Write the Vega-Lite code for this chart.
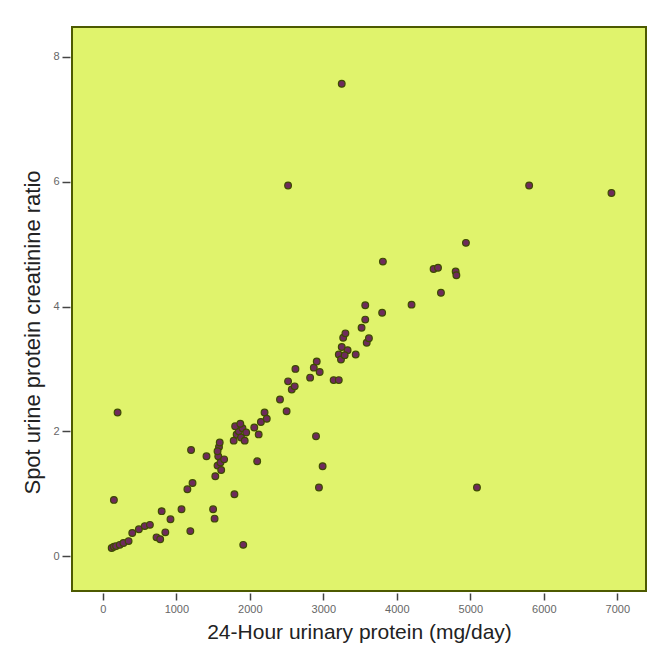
{
  "$schema": "https://vega.github.io/schema/vega-lite/v6.json",
  "autosize": "none",
  "width": 574,
  "height": 564,
  "padding": {"left": 72, "top": 27, "right": 6, "bottom": 66},
  "background": "white",
  "config": {
    "view": {"fill": "#e0f36c", "stroke": "#4d5a00", "strokeWidth": 2},
    "font": "Liberation Sans"
  },
  "data": {
    "values": [
      {"p": 120, "r": 0.13}, {"p": 150, "r": 0.15}, {"p": 180, "r": 0.16}, {"p": 230, "r": 0.18},
      {"p": 280, "r": 0.21}, {"p": 350, "r": 0.24}, {"p": 150, "r": 0.9}, {"p": 200, "r": 2.3},
      {"p": 400, "r": 0.37}, {"p": 490, "r": 0.43}, {"p": 570, "r": 0.48}, {"p": 640, "r": 0.5},
      {"p": 730, "r": 0.3}, {"p": 780, "r": 0.27}, {"p": 850, "r": 0.38}, {"p": 800, "r": 0.72},
      {"p": 920, "r": 0.59}, {"p": 1070, "r": 0.75}, {"p": 1190, "r": 0.4}, {"p": 1150, "r": 1.07},
      {"p": 1220, "r": 1.17}, {"p": 1200, "r": 1.7}, {"p": 1410, "r": 1.6}, {"p": 1500, "r": 0.75},
      {"p": 1520, "r": 0.6}, {"p": 1530, "r": 1.28}, {"p": 1560, "r": 1.45}, {"p": 1570, "r": 1.6},
      {"p": 1580, "r": 1.75}, {"p": 1600, "r": 1.5}, {"p": 1610, "r": 1.38}, {"p": 1650, "r": 1.55},
      {"p": 1560, "r": 1.68}, {"p": 1590, "r": 1.82},
      {"p": 1790, "r": 0.99}, {"p": 1910, "r": 0.18}, {"p": 1780, "r": 1.85}, {"p": 1820, "r": 1.95},
      {"p": 1850, "r": 2.0}, {"p": 1880, "r": 1.9}, {"p": 1900, "r": 2.05}, {"p": 1950, "r": 1.98},
      {"p": 1800, "r": 2.08}, {"p": 1870, "r": 2.12}, {"p": 1930, "r": 1.85},
      {"p": 2060, "r": 2.06}, {"p": 2100, "r": 1.52}, {"p": 2120, "r": 1.95}, {"p": 2150, "r": 2.15},
      {"p": 2200, "r": 2.3}, {"p": 2230, "r": 2.2}, {"p": 2410, "r": 2.51}, {"p": 2500, "r": 2.32},
      {"p": 2520, "r": 2.8}, {"p": 2570, "r": 2.67}, {"p": 2610, "r": 2.72}, {"p": 2620, "r": 3.0},
      {"p": 2820, "r": 2.86}, {"p": 2870, "r": 3.02}, {"p": 2910, "r": 3.12}, {"p": 2900, "r": 1.92},
      {"p": 2990, "r": 1.44}, {"p": 2940, "r": 1.1}, {"p": 3140, "r": 2.82}, {"p": 3210, "r": 2.82},
      {"p": 3210, "r": 3.23}, {"p": 3250, "r": 3.35}, {"p": 3270, "r": 3.5}, {"p": 3300, "r": 3.57},
      {"p": 3330, "r": 3.3}, {"p": 3440, "r": 3.23}, {"p": 3520, "r": 3.66}, {"p": 3570, "r": 3.79},
      {"p": 3590, "r": 3.42}, {"p": 3620, "r": 3.49}, {"p": 3570, "r": 4.02}, {"p": 3800, "r": 3.9},
      {"p": 3240, "r": 3.15}, {"p": 3290, "r": 3.22}, {"p": 2950, "r": 2.95},
      {"p": 3810, "r": 4.72}, {"p": 4200, "r": 4.03}, {"p": 4500, "r": 4.6}, {"p": 4560, "r": 4.62},
      {"p": 4600, "r": 4.22}, {"p": 4800, "r": 4.56}, {"p": 4810, "r": 4.5}, {"p": 4940, "r": 5.02},
      {"p": 5090, "r": 1.1}, {"p": 3250, "r": 7.57}, {"p": 2520, "r": 5.94}, {"p": 5800, "r": 5.94},
      {"p": 6920, "r": 5.82}
    ]
  },
  "mark": {"type": "point", "shape": "circle", "filled": true, "size": 45, "fill": "#6e2a5c", "stroke": "#3d4a00", "strokeWidth": 1.2, "opacity": 1},
  "encoding": {
    "x": {
      "field": "p", "type": "quantitative",
      "scale": {"domain": [-420, 7390], "nice": false, "zero": false},
      "axis": {
        "title": "24-Hour urinary protein (mg/day)",
        "values": [0, 1000, 2000, 3000, 4000, 5000, 6000, 7000],
        "format": "d",
        "grid": false, "domain": false, "offset": 2,
        "tickSize": 7, "tickColor": "#444", "tickWidth": 1.5,
        "labelColor": "#666", "labelFontSize": 11, "labelPadding": 3,
        "titleColor": "#222", "titleFontSize": 21, "titleFontWeight": "normal", "titlePadding": 7
      }
    },
    "y": {
      "field": "r", "type": "quantitative",
      "scale": {"domain": [-0.56, 8.48], "nice": false, "zero": false},
      "axis": {
        "title": "Spot urine protein creatinine ratio",
        "values": [0, 2, 4, 6, 8],
        "grid": false, "domain": false, "offset": 2,
        "tickSize": 8, "tickColor": "#444", "tickWidth": 1.5,
        "labelColor": "#666", "labelFontSize": 11, "labelPadding": 3,
        "titleColor": "#222", "titleFontSize": 22, "titleFontWeight": "normal", "titlePadding": 8,
        "titleY": 305
      }
    }
  }
}
